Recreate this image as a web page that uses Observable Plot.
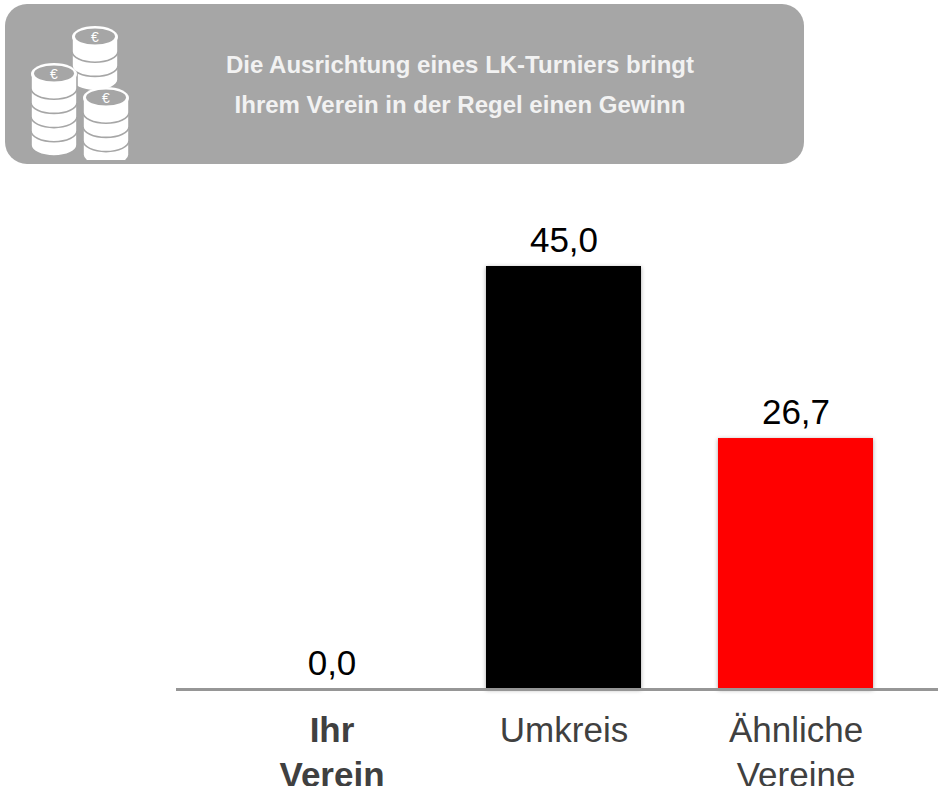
<!DOCTYPE html>
<html lang="de"><head><meta charset="utf-8">
<script src="https://cdn.jsdelivr.net/npm/d3@7"></script>
<script src="https://cdn.jsdelivr.net/npm/@observablehq/plot@0.6"></script>
<style>
html,body{margin:0;padding:0;background:#fff;width:938px;height:786px;overflow:hidden}
body{font-family:"Liberation Sans",Arial,sans-serif}
#banner{position:relative;margin:4px 0 0 5px;width:799px;height:160px;background:#a6a6a6;border-radius:22px}
#banner .t{position:absolute;left:0;top:41px;width:936px;left:-101px;padding-left:0;text-align:center;color:#f2f2f2;font-weight:700;font-size:24px;line-height:40px;white-space:nowrap;transform:translateX(101px);width:799px;padding-left:169px;box-sizing:border-box;padding-right:58px}
#banner svg{position:absolute;left:-5px;top:-4px}
#chart{display:block;margin-top:6px}
#chart svg{display:block}
#chart g[aria-label="bar"] rect{filter:drop-shadow(0 1px 2px rgba(0,0,0,.35))}
</style></head><body>
<div id="banner">
<svg id="coins" width="140" height="160" viewBox="0 0 140 160"></svg>
<div class="t">Die Ausrichtung eines LK-Turniers bringt<br>Ihrem Verein in der Regel einen Gewinn</div>
</div>
<div id="chart"></div>
<script>
const categories = ["Ihr\nVerein", "Umkreis", "Ähnliche\nVereine"];
const values = [0, 45.0, 26.7];
const barColors = ["#000000", "#000000", "#ff0000"];
const bannerGray = "#a6a6a6";
const table = categories.map((c, i) => ({category: c, value: values[i], color: barColors[i]}));

// Decorative coin icon of the banner
const stacks = [
  {cx: 95, top: 37, n: 3, cover: 78},
  {cx: 54, top: 74, n: 5},
  {cx: 106, top: 98, n: 4}
];
const rx = 23, ry = 11, gap = 14.2;
let icon = "";
for (const s of stacks) {
  for (let k = s.n; k >= 1; k--) {
    const y = s.top + k * gap;
    icon += `<path d="M${s.cx-rx} ${y-gap}V${y}A${rx} ${ry} 0 0 0 ${s.cx+rx} ${y}V${y-gap}Z" fill="#fff" stroke="${bannerGray}" stroke-width="1.6"/>`;
  }
  icon += `<ellipse cx="${s.cx}" cy="${s.top}" rx="${rx}" ry="${ry}" fill="#fff"/>`;
  icon += `<ellipse cx="${s.cx}" cy="${s.top-.5}" rx="${rx-3}" ry="${ry-3}" fill="${bannerGray}"/>`;
  icon += `<text x="${s.cx}" y="${s.top+5}" text-anchor="middle" font-size="14" fill="#fff" font-family="Liberation Sans">€</text>`;
}
document.getElementById("coins").innerHTML = icon;

const fmt = v => v.toFixed(1).replace(".", ",");
const plot = Plot.plot({
  width: 938,
  height: 616,
  marginTop: 49,
  marginBottom: 97,
  marginLeft: 176,
  marginRight: 0,
  style: {fontFamily: '"Liberation Sans",Arial,sans-serif', background: "#fff"},
  x: {domain: categories, range: [215, 911], paddingInner: 0.332, paddingOuter: 0.166, label: null},
  y: {domain: [0, 50], axis: null, label: null},
  marks: [
    Plot.barY(table, {x: "category", y: "value", fill: "color"}),
    Plot.ruleY([0], {stroke: "#969696", strokeWidth: 3}),
    Plot.text(table, {x: "category", y: "value", text: d => fmt(d.value), dy: -15, lineAnchor: "bottom", fontSize: 35, fill: "#000"}),
    Plot.axisX([categories[0]], {tickSize: 0, tickPadding: 20, fontSize: 35, fontWeight: 700, lineHeight: 1.3, color: "#404040", label: null}),
    Plot.axisX(categories.slice(1), {tickSize: 0, tickPadding: 20, fontSize: 35, lineHeight: 1.3, color: "#404040", label: null})
  ]
});
document.getElementById("chart").append(plot);
</script>
</body></html>
